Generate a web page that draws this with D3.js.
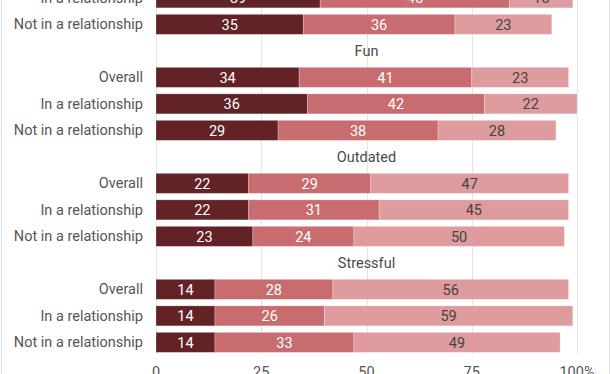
<!DOCTYPE html>
<html>
<head>
<meta charset="utf-8">
<script src="https://cdn.jsdelivr.net/npm/d3@7"></script>
<style>
  html, body { margin: 0; padding: 0; background: #fff; }
  svg { display: block; font-family: Roboto, "Noto Sans", sans-serif; }
</style>
</head>
<body>
<svg id="chart" width="612" height="374"></svg>
<script>
// ---- data ----
const groups = ["(previous)", "Fun", "Outdated", "Stressful"];
const groupRows = [
  ["In a relationship", "Not in a relationship"],
  ["Overall", "In a relationship", "Not in a relationship"],
  ["Overall", "In a relationship", "Not in a relationship"],
  ["Overall", "In a relationship", "Not in a relationship"]
];
const showTitle = [false, true, true, true];
const series1 = [39, 35, 34, 36, 29, 22, 22, 23, 14, 14, 14];
const series2 = [45, 36, 41, 42, 38, 29, 31, 24, 28, 26, 33];
const series3 = [15, 23, 23, 22, 28, 47, 45, 50, 56, 59, 49];
const tickValues = [0, 25, 50, 75, 100];
const tickLabels = ["0", "25", "50", "75", "100%"];
const colors = ["#632226", "#c96c70", "#df9c9e"];
const textColors = ["#ffffff", "#ffffff", "#444444"];

// ---- build slots ----
const slots = [];
const rows = [];
let k = 0;
groups.forEach((g, gi) => {
  if (showTitle[gi]) slots.push({ id: "t" + gi, type: "title", label: g });
  groupRows[gi].forEach((r, ri) => {
    const id = "r" + gi + "_" + ri;
    slots.push({ id, type: "row", label: r });
    rows.push({ id, label: r, vals: [series1[k], series2[k], series3[k]] });
    k++;
  });
});

const svg = d3.select("#chart");
const step = 26.5;
const y0 = -15.4;
const y = d3.scaleBand()
  .domain(slots.map(s => s.id))
  .range([y0, y0 + slots.length * step])
  .paddingInner(0.245)
  .paddingOuter(0.1225);

const x = d3.scaleLinear().domain([0, 100]).range([156, 577]);
const fs = 14.5;

// frame lines
svg.append("line").attr("x1", 1.5).attr("x2", 1.5).attr("y1", 0).attr("y2", 374)
  .attr("stroke", "#e2e2e2").attr("stroke-width", 1);
svg.append("line").attr("x1", 609.5).attr("x2", 609.5).attr("y1", 0).attr("y2", 374)
  .attr("stroke", "#e2e2e2").attr("stroke-width", 1);

// gridlines
const gridBottom = 354;
svg.append("g").selectAll("line").data(tickValues).join("line")
  .attr("x1", d => Math.round(x(d)) + 0.5).attr("x2", d => Math.round(x(d)) + 0.5)
  .attr("y1", 0).attr("y2", gridBottom)
  .attr("stroke", "#e4e4e4").attr("stroke-width", 1);

// group titles
svg.append("g").selectAll("text").data(slots.filter(s => s.type === "title")).join("text")
  .attr("x", (x(0) + x(100)) / 2)
  .attr("y", d => y(d.id) + y.bandwidth() / 2)
  .attr("dy", "0.35em")
  .attr("text-anchor", "middle")
  .attr("font-size", fs)
  .attr("fill", "#4a4a4a")
  .text(d => d.label);

// row labels
svg.append("g").selectAll("text").data(rows).join("text")
  .attr("x", x(0) - 13)
  .attr("y", d => y(d.id) + y.bandwidth() / 2)
  .attr("dy", "0.35em")
  .attr("text-anchor", "end")
  .attr("font-size", fs)
  .attr("fill", "#555555")
  .text(d => d.label);

// bars
const rowG = svg.append("g").selectAll("g").data(rows).join("g")
  .attr("transform", d => `translate(0,${y(d.id)})`);

rowG.each(function(d) {
  const g = d3.select(this);
  let acc = 0;
  const segs = d.vals.map((v, i) => {
    const s = { start: acc, end: acc + v, v, i };
    acc += v;
    return s;
  });
  g.selectAll("rect").data(segs).join("rect")
    .attr("x", s => x(s.start))
    .attr("width", s => x(s.end) - x(s.start))
    .attr("y", 0)
    .attr("height", y.bandwidth())
    .attr("fill", s => colors[s.i])
    .attr("stroke", "#ffffff").attr("stroke-opacity", 0.3).attr("stroke-width", 0.8);
  g.selectAll("text").data(segs).join("text")
    .attr("x", s => (x(s.start) + x(s.end)) / 2)
    .attr("y", y.bandwidth() / 2)
    .attr("dy", "0.36em")
    .attr("text-anchor", "middle")
    .attr("font-size", fs)
    .attr("fill", s => textColors[s.i])
    .text(s => s.v);
});

// x axis tick labels
svg.append("g").selectAll("text").data(tickValues).join("text")
  .attr("x", d => x(d))
  .attr("y", 377)
  .attr("text-anchor", "middle")
  .attr("font-size", fs)
  .attr("fill", "#555555")
  .text((d, i) => tickLabels[i]);
</script>
</body>
</html>
